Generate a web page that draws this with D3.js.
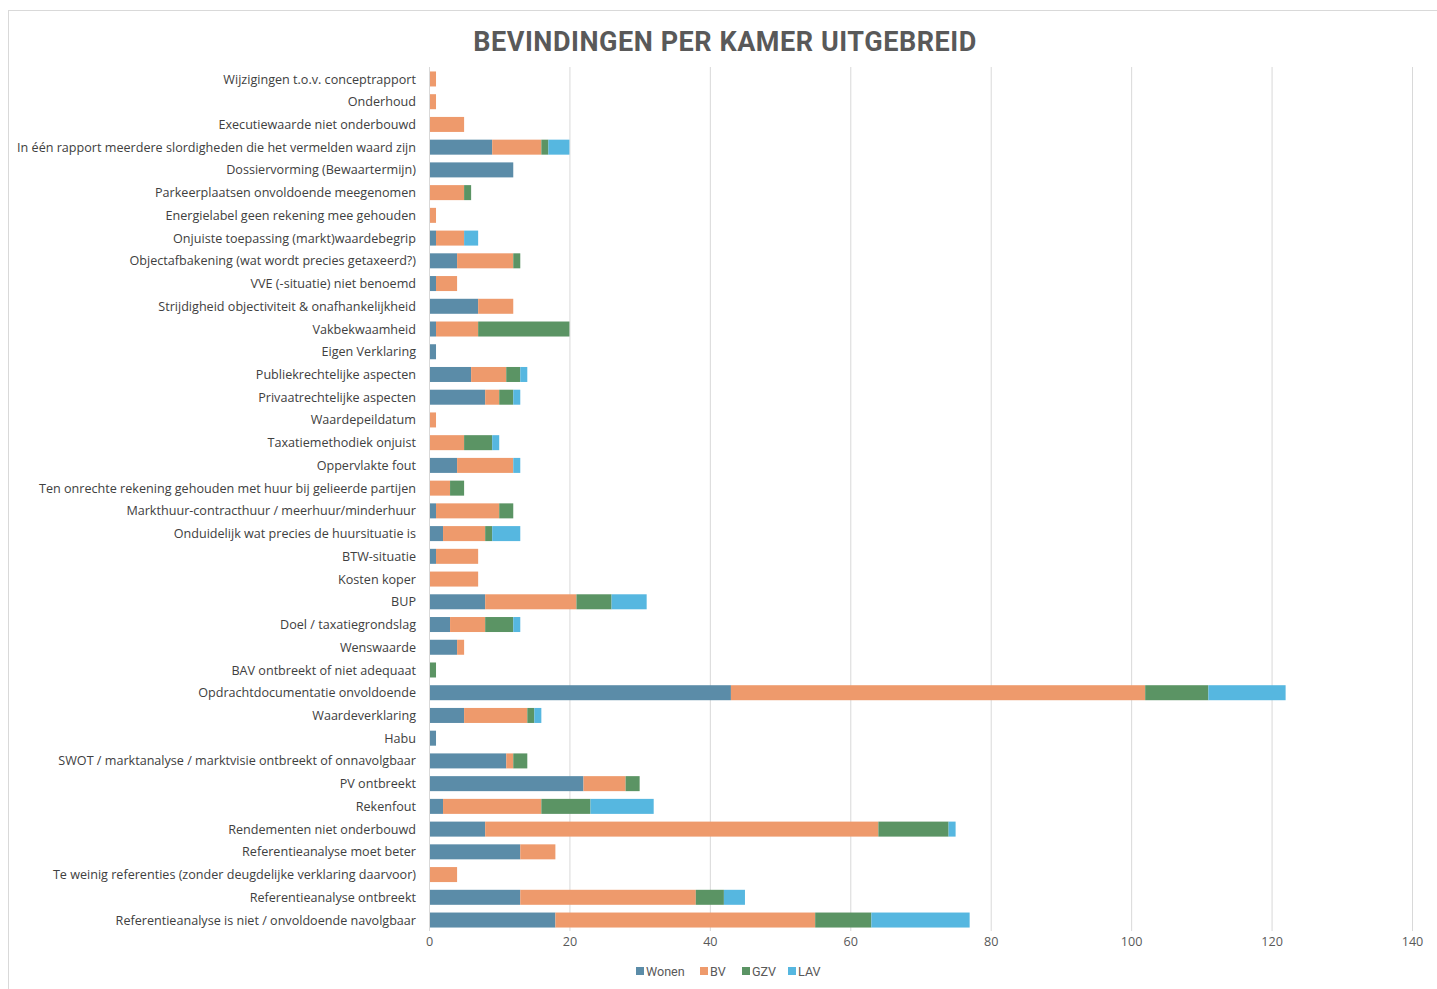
<!DOCTYPE html>
<html><head><meta charset="utf-8">
<script src="https://cdn.jsdelivr.net/npm/d3@7"></script>
<style>
html,body{margin:0;padding:0;background:#fff;}
svg{display:block;}
</style></head>
<body>
<script>
const categories = [
"Wijzigingen t.o.v. conceptrapport",
"Onderhoud",
"Executiewaarde niet onderbouwd",
"In één rapport meerdere slordigheden die het vermelden waard zijn",
"Dossiervorming (Bewaartermijn)",
"Parkeerplaatsen onvoldoende meegenomen",
"Energielabel geen rekening mee gehouden",
"Onjuiste toepassing (markt)waardebegrip",
"Objectafbakening (wat wordt precies getaxeerd?)",
"VVE (-situatie) niet benoemd",
"Strijdigheid objectiviteit & onafhankelijkheid",
"Vakbekwaamheid",
"Eigen Verklaring",
"Publiekrechtelijke aspecten",
"Privaatrechtelijke aspecten",
"Waardepeildatum",
"Taxatiemethodiek onjuist",
"Oppervlakte fout",
"Ten onrechte rekening gehouden met huur bij gelieerde partijen",
"Markthuur-contracthuur / meerhuur/minderhuur",
"Onduidelijk wat precies de huursituatie is",
"BTW-situatie",
"Kosten koper",
"BUP",
"Doel / taxatiegrondslag",
"Wenswaarde",
"BAV ontbreekt of niet adequaat",
"Opdrachtdocumentatie onvoldoende",
"Waardeverklaring",
"Habu",
"SWOT / marktanalyse / marktvisie ontbreekt of onnavolgbaar",
"PV ontbreekt",
"Rekenfout",
"Rendementen niet onderbouwd",
"Referentieanalyse moet beter",
"Te weinig referenties (zonder deugdelijke verklaring daarvoor)",
"Referentieanalyse ontbreekt",
"Referentieanalyse is niet / onvoldoende navolgbaar"
];
const wonen = [0,0,0,9,12,0,0,1,4,1,7,1,1,6,8,0,0,4,0,1,2,1,0,8,3,4,0,43,5,1,11,22,2,8,13,0,13,18];
const bv    = [1,1,5,7,0,5,1,4,8,3,5,6,0,5,2,1,5,8,3,9,6,6,7,13,5,1,0,59,9,0,1,6,14,56,5,4,25,37];
const gzv   = [0,0,0,1,0,1,0,0,1,0,0,13,0,2,2,0,4,0,2,2,1,0,0,5,4,0,1,9,1,0,2,2,7,10,0,0,4,8];
const lav   = [0,0,0,3,0,0,0,2,0,0,0,0,0,1,1,0,1,1,0,0,4,0,0,5,1,0,0,11,1,0,0,0,9,1,0,0,3,14];
const seriesNames = ["Wonen","BV","GZV","LAV"];
const xTicks = [0,20,40,60,80,100,120,140];
const titleText = "BEVINDINGEN PER KAMER UITGEBREID";

const colors = ["#5b8ca8","#ee9a6c","#5b9464","#56b7e0"];
const W = 1437, H = 989;
const svg = d3.select("body").append("svg").attr("width", W).attr("height", H);

svg.append("rect").attr("x",8.5).attr("y",10.5).attr("width",W+20).attr("height",H+20)
  .attr("fill","#fff").attr("stroke","#d9d9d9").attr("stroke-width",1);

const rows = categories.map((c,i)=>({cat:c, Wonen:wonen[i], BV:bv[i], GZV:gzv[i], LAV:lav[i]}));
const stack = d3.stack().keys(seriesNames)(rows);

const x = d3.scaleLinear().domain([0,140]).range([429,1412]);
const y = d3.scaleBand().domain(categories).range([67.6,931.4]).paddingInner(0.34).paddingOuter(0.17);

// gridlines
svg.append("g").selectAll("line").data(xTicks.slice(1)).join("line")
  .attr("x1",d=>x(d)+0.5).attr("x2",d=>x(d)+0.5).attr("y1",67).attr("y2",931)
  .attr("stroke","#d9d9d9").attr("stroke-width",1);

// bars
svg.append("g").selectAll("g").data(stack).join("g")
  .attr("fill",(d,i)=>colors[i])
  .selectAll("rect").data(d=>d.map(v=>({v, cat:v.data.cat}))).join("rect")
  .attr("x",d=>x(d.v[0])).attr("width",d=>Math.max(0,x(d.v[1])-x(d.v[0])))
  .attr("y",d=>y(d.cat)).attr("height",y.bandwidth());

// category axis line
svg.append("line").attr("x1",429.5).attr("x2",429.5).attr("y1",67).attr("y2",931)
  .attr("stroke","#d9d9d9");

// y labels
const yAxis = d3.axisLeft(y).tickSize(0).tickPadding(13);
const gy = svg.append("g").attr("transform","translate(429,0.5)").call(yAxis);
gy.select(".domain").remove();
gy.selectAll("text").attr("font-family","Open Sans, sans-serif").attr("font-size","12.6px").attr("fill","#404040");

// x labels
const xAxis = d3.axisBottom(x).tickValues(xTicks).tickSize(0).tickPadding(0).tickFormat(d3.format("d"));
const gx = svg.append("g").attr("transform","translate(0,937)").call(xAxis);
gx.select(".domain").remove();
gx.selectAll("text").attr("font-family","Open Sans, sans-serif").attr("font-size","12.6px").attr("fill","#595959");

// title
svg.append("text").attr("x",725).attr("y",51).attr("text-anchor","middle")
  .attr("font-family","Roboto, sans-serif").attr("font-weight",700).attr("font-size","27px")
  .attr("letter-spacing","0.55px")
  .attr("fill","#595959").text(titleText);

// legend
const legX = [636,700,742,788];
const leg = svg.append("g").selectAll("g").data(seriesNames).join("g")
  .attr("transform",(d,i)=>`translate(${legX[i]},967)`);
leg.append("rect").attr("width",8).attr("height",8).attr("fill",(d,i)=>colors[i]);
leg.append("text").attr("x",10).attr("y",8.5).attr("font-family","Roboto, sans-serif")
  .attr("font-size","12.6px").attr("fill","#595959").text(d=>d);
</script>
</body></html>
